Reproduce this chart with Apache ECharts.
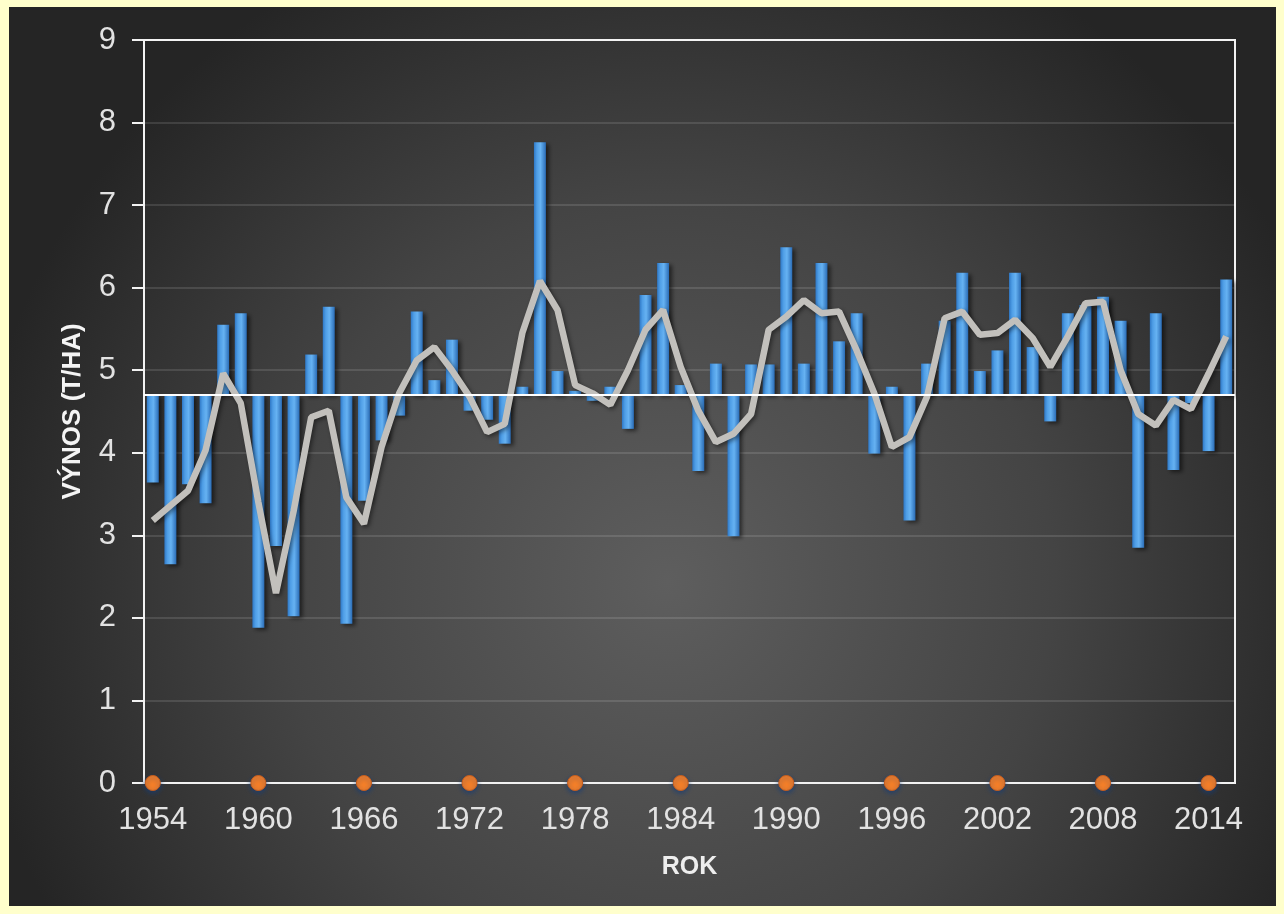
<!DOCTYPE html>
<html>
<head>
<meta charset="utf-8">
<script src="https://cdn.jsdelivr.net/npm/echarts@6/dist/echarts.min.js"></script>
<style>
  html, body { margin: 0; padding: 0; background: #FFFFCC; }
  #chart { position: absolute; left: 9px; top: 7px; width: 1267px; height: 899px; }
</style>
</head>
<body>
<div id="chart"></div>
<script>
// Harvest years
const years = ['1954','1955','1956','1957','1958','1959','1960','1961','1962','1963',
  '1964','1965','1966','1967','1968','1969','1970','1971','1972','1973',
  '1974','1975','1976','1977','1978','1979','1980','1981','1982','1983',
  '1984','1985','1986','1987','1988','1989','1990','1991','1992','1993',
  '1994','1995','1996','1997','1998','1999','2000','2001','2002','2003',
  '2004','2005','2006','2007','2008','2009','2010','2011','2012','2013',
  '2014','2015'];

// Yield per year (t/ha)
const yields = [3.64, 2.65, 3.62, 3.39, 5.55, 5.69, 1.88, 2.87, 2.02, 5.19,
  5.77, 1.93, 3.42, 4.15, 4.45, 5.71, 4.88, 5.37, 4.51, 4.40,
  4.11, 4.80, 7.76, 4.99, 4.75, 4.63, 4.80, 4.29, 5.91, 6.30,
  4.82, 3.78, 5.08, 2.99, 5.07, 5.07, 6.49, 5.08, 6.30, 5.35,
  5.69, 3.99, 4.80, 3.18, 5.08, 5.60, 6.18, 4.99, 5.24, 6.18,
  5.28, 4.38, 5.69, 5.79, 5.89, 5.60, 2.85, 5.69, 3.79, 4.60,
  4.02, 6.10];

// Smoothed trend of the yield
const trend = [3.18, 3.36, 3.54, 4.03, 4.96, 4.60, 3.40, 2.30, 3.29, 4.43,
  4.51, 3.46, 3.14, 4.07, 4.72, 5.12, 5.28, 5.00, 4.68, 4.25,
  4.35, 5.45, 6.08, 5.73, 4.82, 4.72, 4.58, 5.00, 5.49, 5.73,
  5.04, 4.51, 4.13, 4.23, 4.47, 5.49, 5.65, 5.85, 5.69, 5.71,
  5.24, 4.72, 4.07, 4.19, 4.68, 5.63, 5.71, 5.43, 5.45, 5.61,
  5.39, 5.04, 5.41, 5.81, 5.83, 5.00, 4.47, 4.33, 4.64, 4.53,
  4.96, 5.41];

// Long-term average the bars hang from
const baseline = 4.7;

// Years marked on the time axis
const markedYears = ['1954','1960','1966','1972','1978','1984','1990','1996','2002','2008','2014'];

// Y axis ticks
const yTicks = { min: 0, max: 9, step: 1 };

const chart = echarts.init(document.getElementById('chart'));

const barData = yields.map((v, i) => [i, v]);
const dotData = markedYears.map(y => [y, 0]);

const font = "'Liberation Sans', Arial, sans-serif";

chart.setOption({
  backgroundColor: new echarts.graphic.RadialGradient(0.52, 0.64, 0.78, [
    { offset: 0, color: '#5e5e5e' },
    { offset: 0.55, color: '#444444' },
    { offset: 1, color: '#252525' }
  ]),
  animation: false,
  grid: {
    left: 135, top: 33, right: 41, bottom: 123,
    show: true,
    borderColor: '#f2f2f2',
    borderWidth: 2,
    backgroundColor: 'transparent'
  },
  xAxis: {
    type: 'category',
    data: years,
    boundaryGap: true,
    name: 'ROK',
    nameLocation: 'middle',
    nameGap: 72,
    nameTextStyle: { color: '#eeeeee', fontFamily: font, fontWeight: 'bold', fontSize: 25 },
    axisLine: { lineStyle: { color: '#f2f2f2', width: 2 } },
    axisTick: { show: false },
    axisLabel: {
      interval: 5,
      color: '#e2e2e2',
      fontFamily: font,
      fontSize: 31,
      margin: 22
    },
    splitLine: { show: false }
  },
  yAxis: {
    type: 'value',
    min: yTicks.min,
    max: yTicks.max,
    interval: yTicks.step,
    name: 'VÝNOS (T/HA)',
    nameLocation: 'middle',
    nameGap: 58,
    nameRotate: 90,
    nameTextStyle: { color: '#f4f4f4', fontFamily: font, fontWeight: 'bold', fontSize: 26 },
    axisLine: { show: true, lineStyle: { color: '#f2f2f2', width: 2 } },
    axisTick: { show: true, inside: false, length: 12, lineStyle: { color: '#f2f2f2', width: 2 } },
    axisLabel: {
      color: '#e2e2e2',
      fontFamily: font,
      fontSize: 31,
      margin: 28
    },
    splitLine: { show: true, lineStyle: { color: 'rgba(255,255,255,0.16)', width: 1.5 } }
  },
  series: [
    {
      name: 'Výnos',
      type: 'custom',
      z: 2,
      data: barData,
      encode: { x: 0, y: 1 },
      renderItem: function (params, api) {
        const idx = api.value(0);
        const v = api.value(1);
        const top = api.coord([idx, v]);
        const base = api.coord([idx, baseline]);
        const w = api.size([1, 0])[0] * 0.68;
        return {
          type: 'rect',
          shape: {
            x: top[0] - w / 2,
            y: Math.min(top[1], base[1]),
            width: w,
            height: Math.abs(base[1] - top[1])
          },
          style: {
            fill: new echarts.graphic.LinearGradient(0, 0, 1, 0, [
              { offset: 0, color: '#2f78c6' },
              { offset: 0.25, color: '#4f9ee6' },
              { offset: 0.55, color: '#66b2f2' },
              { offset: 1, color: '#2a6cb6' }
            ]),
            shadowColor: 'rgba(0,0,0,0.55)',
            shadowBlur: 4,
            shadowOffsetX: 3,
            shadowOffsetY: 2
          }
        };
      },
      markLine: {
        silent: true,
        symbol: 'none',
        label: { show: false },
        lineStyle: { color: '#ffffff', width: 2, type: 'solid' },
        data: [{ yAxis: baseline }]
      }
    },
    {
      name: 'Trend',
      type: 'line',
      z: 3,
      data: trend,
      smooth: false,
      symbol: 'none',
      lineStyle: {
        color: '#c2c0bc',
        width: 6.5,
        shadowColor: 'rgba(0,0,0,0.45)',
        shadowBlur: 4,
        shadowOffsetX: 2,
        shadowOffsetY: 2
      }
    },
    {
      name: 'Roky',
      type: 'scatter',
      z: 4,
      data: dotData,
      symbol: 'circle',
      symbolSize: 15,
      itemStyle: {
        color: '#f57f28',
        opacity: 1,
        borderColor: '#c85e1c',
        borderWidth: 1,
        shadowColor: 'rgba(20,60,120,0.8)',
        shadowBlur: 5,
        shadowOffsetY: 2
      }
    }
  ]
});
</script>
</body>
</html>
